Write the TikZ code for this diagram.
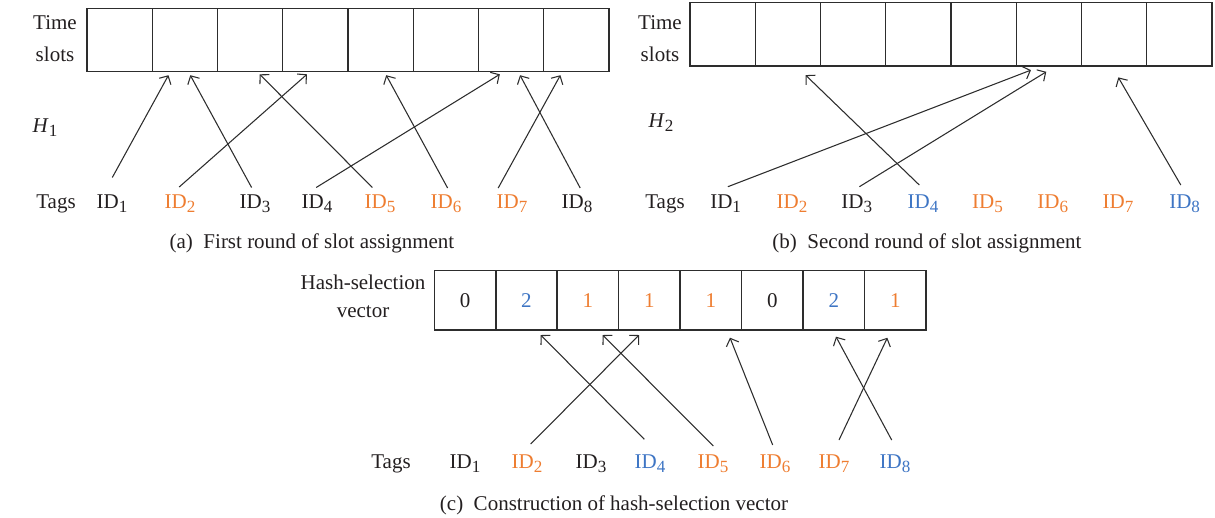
\documentclass[tikz,border=0pt]{standalone}
\usepackage{fontspec}
\setmainfont{Liberation Serif}
\usetikzlibrary{arrows.meta}
\definecolor{tor}{RGB}{238,125,49}
\definecolor{tbl}{RGB}{62,117,196}
\definecolor{ink}{RGB}{35,31,32}
\definecolor{lin}{RGB}{45,45,45}
\newcommand\idsub[1]{\raisebox{-3pt}{\fontsize{12.8pt}{12.8pt}\selectfont #1}}
\newcommand\tagid[1]{ID\idsub{#1}}
\begin{document}
\begin{tikzpicture}[x=0.75pt,y=-0.75pt,
  txt/.style={inner sep=0pt, outer sep=0pt, anchor=base, text=ink, font=\fontsize{15.75pt}{19pt}\selectfont},
  cellbase/.style={draw=lin, line width=1.1pt, inner sep=0pt, outer sep=0pt, text=ink, font=\fontsize{15.75pt}{19pt}\selectfont},
  slotA/.style={cellbase, minimum width=48.94pt, minimum height=47.55pt},
  slotB/.style={cellbase, minimum width=48.94pt, minimum height=47.4pt},
  slotC/.style={cellbase, minimum width=46.1pt, minimum height=44.5pt},
  arr/.style={draw=lin, line width=0.8pt, -{Straight Barb[length=4.8pt,width=10pt]}},
]
\useasboundingbox (0,0) rectangle (1215,518);

% ---------- (a) ----------
\foreach \k in {1,...,8}
  \node[slotA] (a\k) at ({87+65.25*(\k-0.5)},40) {};
\node[txt] (timeA) at (55,29.5) {Time};
\node[txt] (slotsA) at (55,61.5) {slots};
\node[txt] (hA) at (45,132) {\textit{H}\idsub{1}};
\node[txt] (tagsA) at (56,208) {Tags};
\foreach \k/\x/\c in {1/112/ink,2/180/tor,3/255/ink,4/317/ink,5/380/tor,6/446/tor,7/512/tor,8/577/ink}
  \node[txt, text=\c] (ta\k) at (\x,208) {\tagid{\k}};
\node[txt] (capA) at (312,248.5) {(a)\enspace First round of slot assignment};

\draw[arr] ([shift={(0.3,-30.5)}]ta1.base) -- ([shift={(-16.4,3.5)}]a2.south);
\draw[arr] ([shift={(-0.8,-21)}]ta2.base) -- ([shift={(-8.4,2.6)}]a4.south);
\draw[arr] ([shift={(-3.4,-20.5)}]ta3.base) -- ([shift={(5.4,3.5)}]a2.south);
\draw[arr] ([shift={(-0.8,-20.5)}]ta4.base) -- ([shift={(-11.3,2.6)}]a7.south);
\draw[arr] ([shift={(-7.6,-20.5)}]ta5.base) -- ([shift={(9.5,2.6)}]a3.south);
\draw[arr] ([shift={(1.6,-20)}]ta6.base) -- ([shift={(5.6,3.5)}]a5.south);
\draw[arr] ([shift={(-13.8,-20)}]ta7.base) -- ([shift={(-16,3.5)}]a8.south);
\draw[arr] ([shift={(3.2,-20)}]ta8.base) -- ([shift={(8.9,3.5)}]a7.south);

% ---------- (b) ----------
\foreach \k in {1,...,8}
  \node[slotB] (b\k) at ({690+65.25*(\k-0.5)},34.2) {};
\node[txt] (timeB) at (660,29) {Time};
\node[txt] (slotsB) at (660,61) {slots};
\node[txt] (hB) at (661,127) {\textit{H}\idsub{2}};
\node[txt] (tagsB) at (665,208) {Tags};
\foreach \k/\x/\c in {1/725.6/ink,2/792/tor,3/856.8/ink,4/923/tbl,5/987.5/tor,6/1052.7/tor,7/1118/tor,8/1184.6/tbl}
  \node[txt, text=\c] (tb\k) at (\x,208) {\tagid{\k}};
\node[txt] (capB) at (927,248.5) {(b)\enspace Second round of slot assignment};

\draw[arr] ([shift={(2.3,-21.3)}]tb1.base) -- ([shift={(-17.9,4.3)}]b6.south);
\draw[arr] ([shift={(2.6,-21.3)}]tb3.base) -- ([shift={(-2.6,6)}]b6.south);
\draw[arr] ([shift={(-3.7,-23)}]tb4.base) -- ([shift={(17.7,9.3)}]b2.south);
\draw[arr] ([shift={(-3.8,-23)}]tb8.base) -- ([shift={(4.2,11.6)}]b7.south);

% ---------- (c) ----------
\foreach \k/\v/\c in {1/0/ink,2/2/tbl,3/1/tor,4/1/tor,5/1/tor,6/0/ink,7/2/tbl,8/1/tor}
  \node[slotC, text=\c] (c\k) at ({434.3+61.46*(\k-0.5)},300.35) {\v};
\node[txt] (hashC) at (363,289) {Hash-selection};
\node[txt] (vecC) at (363,317) {vector};
\node[txt] (tagsC) at (391,468) {Tags};
\foreach \k/\x/\c in {1/465/ink,2/527/tor,3/591/ink,4/650/tbl,5/713/tor,6/775/tor,7/834/tor,8/895/tbl}
  \node[txt, text=\c] (tc\k) at (\x,468) {\tagid{\k}};
\node[txt] (capC) at (614,510) {(c)\enspace Construction of hash-selection vector};

\draw[arr] ([shift={(3.7,-24)}]tc2.base) -- ([shift={(-10.4,5)}]c4.south);
\draw[arr] ([shift={(-5.7,-28.7)}]tc4.base) -- ([shift={(14.2,5)}]c2.south);
\draw[arr] ([shift={(0.3,-22)}]tc5.base) -- ([shift={(14.7,5)}]c3.south);
\draw[arr] ([shift={(-2.3,-23)}]tc6.base) -- ([shift={(19.1,7.7)}]c5.south);
\draw[arr] ([shift={(5,-28)}]tc7.base) -- ([shift={(-7.9,7.7)}]c8.south);
\draw[arr] ([shift={(-3.3,-28)}]tc8.base) -- ([shift={(2.2,6.7)}]c7.south);
\end{tikzpicture}
\end{document}
